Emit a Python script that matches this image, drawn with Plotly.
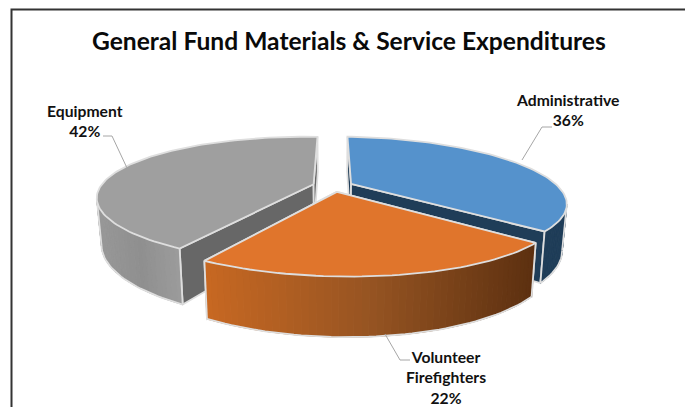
import math
import plotly.graph_objects as go

# Chart data
categories = ["Administrative", "Volunteer<br>Firefighters", "Equipment"]
shares = [36, 22, 42]
chart_title = "General Fund Materials & Service Expenditures"

# Slice colours: top face, inner wall, outer wall gradient stops (left to right)
top_colors = ["#5592CC", "#E0752C", "#9F9F9F"]
inner_colors = ["#1F3D58", "#5C3010", "#676767"]
outer_stops = [
    [(31, 61, 88), (31, 61, 88)],
    [(200, 104, 34), (150, 84, 34), (92, 48, 16)],
    [(152, 152, 152), (143, 143, 143), (156, 156, 156)],
]
edge_color = "#DEDEDE"
leader_color = "#A6A6A6"

# Projection of the exploded pie: screen centre, radii, perspective, thickness, roll
CX, CY = 333.0, 186.0
RX, RY = 210.0, 60.0
PERSPECTIVE = 0.25
THICKNESS = 44.0
TAPER = 0.02
EXPLODE = 0.096
ROLL = 0.016


def project(x, y, depth=0.0):
    s = 1.0 / (1.0 - PERSPECTIVE * y)
    sx = RX * x * s * (1.0 - TAPER * depth)
    return (CX + sx, CY + RY * y * s + THICKNESS * s * depth + ROLL * sx)


def rim(angle, offset, depth=0.0):
    return project(offset[0] + math.sin(angle), offset[1] - math.cos(angle), depth)


def poly(points, fill, line=None, width=0.0):
    xs = [p[0] for p in points] + [points[0][0]]
    ys = [p[1] for p in points] + [points[0][1]]
    return go.Scatter(x=xs, y=ys, mode="lines", fill="toself", fillcolor=fill,
                      line=dict(color=line or fill, width=width),
                      hoverinfo="skip", showlegend=False)


def stroke(points, width=1.8, color=edge_color):
    return go.Scatter(x=[p[0] for p in points], y=[p[1] for p in points], mode="lines",
                      line=dict(color=color, width=width),
                      hoverinfo="skip", showlegend=False)


def gradient(stops, t):
    pos = min(max(t, 0.0), 1.0) * (len(stops) - 1)
    i = min(int(pos), len(stops) - 2)
    f = pos - i
    c = [stops[i][k] + (stops[i + 1][k] - stops[i][k]) * f for k in range(3)]
    return f"rgb({c[0]:.0f},{c[1]:.0f},{c[2]:.0f})"


def slice_traces(start, end, top, inner, stops):
    mid = (start + end) / 2
    offset = (EXPLODE * math.sin(mid), -EXPLODE * math.cos(mid))
    steps = max(int((end - start) / math.radians(1.5)), 2)
    angles = [start + (end - start) * i / steps for i in range(steps + 1)]
    traces = []

    # Flat radial walls
    for a in (start, end):
        wall = [project(*offset), rim(a, offset), rim(a, offset, 1), project(*offset, 1)]
        traces.append(poly(wall, inner, edge_color, 1.8))

    # Curved outer wall, from the silhouette point round to the radial edge
    xs = [rim(a, offset)[0] for a in angles]
    right = xs.index(max(xs))
    left = xs.index(min(xs))
    first = right if 0 < right < steps else 0
    last = left if 0 < left < steps else steps
    visible = angles[first:last + 1]
    x_low = min(xs[first:last + 1])
    x_high = max(xs[first:last + 1])
    for a, b in zip(visible, visible[1:]):
        quad = [rim(a, offset), rim(b, offset), rim(b, offset, 1), rim(a, offset, 1)]
        t = ((quad[0][0] + quad[1][0]) / 2 - x_low) / (x_high - x_low)
        color = gradient(stops, t)
        traces.append(poly(quad, color, color, 1.0))
    traces.append(stroke([rim(a, offset, 1) for a in visible]))
    for a in (visible[0], visible[-1]):
        traces.append(stroke([rim(a, offset), rim(a, offset, 1)]))

    # Top face
    outline = [project(*offset)] + [rim(a, offset) for a in angles]
    traces.append(poly(outline, top, edge_color, 1.8))
    return traces


# Slice boundaries run clockwise from twelve o'clock
total = sum(shares)
bounds = [0.0]
for value in shares:
    bounds.append(bounds[-1] + 2 * math.pi * value / total)

fig = go.Figure()
for idx in (0, 2, 1):  # back slices first, front slice last
    for trace in slice_traces(bounds[idx], bounds[idx + 1], top_colors[idx],
                              inner_colors[idx], outer_stops[idx]):
        fig.add_trace(trace)

# Leader lines
leaders = [
    [(522, 160), (542, 127), (552, 127)],
    [(385, 334), (400, 360), (410, 360)],
    [(127, 168), (112, 136), (103, 136)],
]
for path in leaders:
    fig.add_trace(stroke(path, 1.0, leader_color))

# Data labels
label_positions = [(567, 110), (446, 377), (85, 121)]
for name, value, (lx, ly) in zip(categories, shares, label_positions):
    fig.add_annotation(x=lx, y=ly, text=f"<b>{name}<br>{value}%</b>", showarrow=False,
                       align="center", xanchor="center", yanchor="middle",
                       font=dict(family="Lato", size=15.7, color="#111111"))

# Title
fig.add_annotation(x=348.5, y=40, text=f"<b>{chart_title}</b>", showarrow=False,
                   xanchor="center", yanchor="middle",
                   font=dict(family="Lato", size=24.6, color="#0A0A0A"))

# Frame (top and left edges only)
fig.add_trace(stroke([(11.5, 407), (11.5, 9.5), (685, 9.5)], 2.0, "#333333"))

fig.update_layout(
    width=685, height=407, margin=dict(l=0, r=0, t=0, b=0),
    paper_bgcolor="white", plot_bgcolor="white", showlegend=False,
    xaxis=dict(range=[0, 685], visible=False, fixedrange=True),
    yaxis=dict(range=[407, 0], visible=False, fixedrange=True),
)
fig.write_html("out.html", config=dict(displayModeBar=False))
